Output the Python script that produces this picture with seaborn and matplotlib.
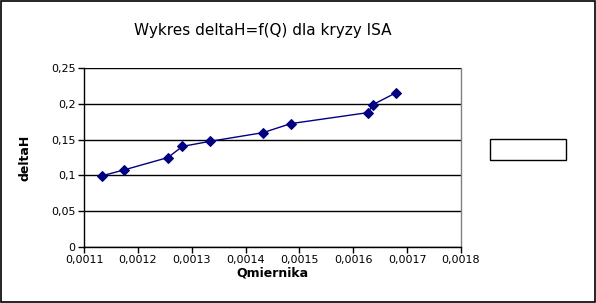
import matplotlib
matplotlib.use("Agg")
import matplotlib.pyplot as plt
import seaborn as sns
import pandas as pd
from matplotlib.ticker import FixedLocator, FuncFormatter
from matplotlib.patches import Rectangle

q_miernika = [0.001133, 0.0011737, 0.001256, 0.0012827, 0.0013334,
              0.0014324, 0.0014838, 0.0016273, 0.0016366, 0.00168]
delta_h = [0.0994, 0.1075, 0.125, 0.1405, 0.1475,
           0.1597, 0.1723, 0.1877, 0.1989, 0.2157]
x_ticks = [0.0011, 0.0012, 0.0013, 0.0014, 0.0015, 0.0016, 0.0017, 0.0018]
y_ticks = [0, 0.05, 0.1, 0.15, 0.2, 0.25]
title = "Wykres deltaH=f(Q) dla kryzy ISA"
x_label = "Qmiernika"
y_label = "deltaH"

df = pd.DataFrame({"Q": q_miernika, "dH": delta_h})

sns.set_style("white")
plt.rcParams["font.family"] = ["DejaVu Sans"]
plt.rcParams["text.color"] = "black"
plt.rcParams["axes.labelcolor"] = "black"

fig = plt.figure(figsize=(5.96, 3.03), dpi=100)
fig.patch.set_facecolor("white")
fig.add_artist(Rectangle((0.001, 0.002), 0.997, 0.995, transform=fig.transFigure,
                         fill=False, edgecolor="black", linewidth=1.2))
ax = fig.add_axes([84 / 596, 56 / 303, 377 / 596, 179 / 303])

sns.lineplot(data=df, x="Q", y="dH", ax=ax, color="#000080", linewidth=1,
             sort=False, marker="D", markersize=5, markeredgecolor="#000080",
             markerfacecolor="#000080", zorder=3)

ax.set_xlim(0.0011, 0.0018)
ax.set_ylim(0, 0.25)
ax.xaxis.set_major_locator(FixedLocator(x_ticks))
ax.yaxis.set_major_locator(FixedLocator(y_ticks))
fmt = FuncFormatter(lambda v, p: f"{v:g}".replace(".", ","))
ax.xaxis.set_major_formatter(fmt)
ax.yaxis.set_major_formatter(fmt)
ax.tick_params(axis="both", labelsize=8, length=4, width=1, direction="out",
               colors="black", pad=2)
ax.tick_params(left=True, bottom=True)
ax.yaxis.grid(True, color="black", linewidth=1)
ax.xaxis.grid(False)
ax.set_axisbelow(True)
for s in ["left", "bottom"]:
    ax.spines[s].set_color("black")
    ax.spines[s].set_linewidth(1)
ax.spines["right"].set_color("#808080")
ax.spines["right"].set_linewidth(1)
ax.spines["top"].set_visible(False)

ax.set_xlabel(x_label, fontsize=9, fontweight="bold", labelpad=1)
ax.set_ylabel(y_label, fontsize=9, fontweight="bold", labelpad=14)
fig.text(263 / 596, 1 - 30 / 303, title, ha="center", va="center", fontsize=11)

fig.add_artist(Rectangle((490 / 596, 1 - 160 / 303), 76 / 596, 21 / 303,
                         transform=fig.transFigure, fill=False,
                         edgecolor="black", linewidth=1))

fig.savefig("out.png", dpi=100, facecolor="white")
